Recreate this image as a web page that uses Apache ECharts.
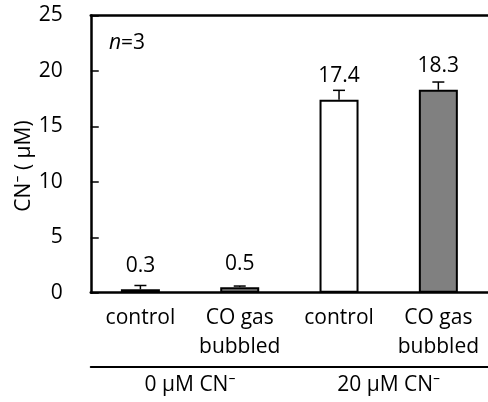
<!DOCTYPE html>
<html>
<head>
<meta charset="utf-8">
<script src="https://cdn.jsdelivr.net/npm/echarts@6/dist/echarts.min.js"></script>
<style>
html,body{margin:0;padding:0;background:#fff;}
#chart{width:488px;height:402px;}
</style>
</head>
<body>
<div id="chart"></div>
<script>
// ---- data ----
const categories = ['control', 'CO gas\nbubbled', 'control', 'CO gas\nbubbled'];
const values = [0.3, 0.5, 17.4, 18.3];
const errors = [0.35, 0.1, 0.85, 0.7];
const groupLabels = ['0 μM CN⁻', '20 μM CN⁻'];
const yMin = 0, yMax = 25, yStep = 5;
const yTitle = 'CN⁻ ( μM)';
const nText = 'n=3';

// ---- styles ----
const FONT = "'Open Sans', 'Noto Sans', sans-serif";
const FS = 21;
const fills = ['#ffffff', '#808080'];

const chart = echarts.init(document.getElementById('chart'), null, {renderer: 'canvas'});

const barData = values.map((v, i) => ({
  value: v,
  itemStyle: {color: fills[i % 2]}
}));

const errData = values.map((v, i) => [i, v, v + errors[i]]);

const option = {
  animation: false,
  grid: {left: 90.75, right: -4.75, top: 15.5, bottom: 109.3, containLabel: false},
  xAxis: [
    {
      type: 'category', data: categories, position: 'bottom',
      axisLine: {lineStyle: {color: '#000', width: 2.5}},
      axisTick: {show: false},
      axisLabel: {color: '#000', fontFamily: FONT, fontSize: FS, lineHeight: 29, margin: 11, interval: 0}
    },
    {
      type: 'category', data: categories, position: 'top',
      axisLine: {lineStyle: {color: '#000', width: 2.5}},
      axisTick: {show: false}, axisLabel: {show: false}
    },
    {
      type: 'category', data: groupLabels, position: 'bottom', offset: 74.3,
      axisLine: {lineStyle: {color: '#000', width: 2}},
      axisTick: {show: false},
      axisLabel: {color: '#000', fontFamily: FONT, fontSize: FS, lineHeight: 22, margin: 7, interval: 0}
    }
  ],
  yAxis: {
    type: 'value', min: yMin, max: yMax, interval: yStep,
    axisLine: {show: true, lineStyle: {color: '#000', width: 2.5}},
    axisTick: {show: true, inside: true, length: 8, lineStyle: {color: '#000', width: 1.5}},
    axisLabel: {color: '#000', fontFamily: FONT, fontSize: FS, margin: 28},
    splitLine: {show: false}
  },
  graphic: [
    {
      type: 'text', x: 24, y: 166, rotation: Math.PI / 2,
      style: {text: yTitle, fill: '#000', font: FS + 'px ' + FONT, textAlign: 'center', textVerticalAlign: 'middle'}
    },
    {
      type: 'text', x: 109, y: 43,
      style: {
        text: '{i|n}=3', fill: '#000', font: FS + 'px ' + FONT, textVerticalAlign: 'middle',
        rich: {i: {fontStyle: 'italic', fontFamily: FONT, fontSize: FS}}
      }
    }
  ],
  series: [
    {
      type: 'bar', xAxisIndex: 0, data: barData, barWidth: 39,
      itemStyle: {borderColor: '#000', borderWidth: 2},
      label: {
        show: true, position: 'top', distance: 13, color: '#000',
        fontFamily: FONT, fontSize: FS,
        formatter: p => p.value.toFixed(1)
      },
      z: 2
    },
    {
      type: 'custom', xAxisIndex: 0, data: errData, z: 3,
      renderItem: function (params, api) {
        const x = api.value(0);
        const p0 = api.coord([x, api.value(1)]);
        const p1 = api.coord([x, api.value(2)]);
        const hw = 6;
        return {
          type: 'group',
          children: [
            {type: 'line', shape: {x1: p0[0], y1: p0[1], x2: p1[0], y2: p1[1]}, style: {stroke: '#000', lineWidth: 1.5}},
            {type: 'line', shape: {x1: p1[0] - hw, y1: p1[1], x2: p1[0] + hw, y2: p1[1]}, style: {stroke: '#000', lineWidth: 1.5}}
          ]
        };
      }
    }
  ]
};
chart.setOption(option);
</script>
</body>
</html>
